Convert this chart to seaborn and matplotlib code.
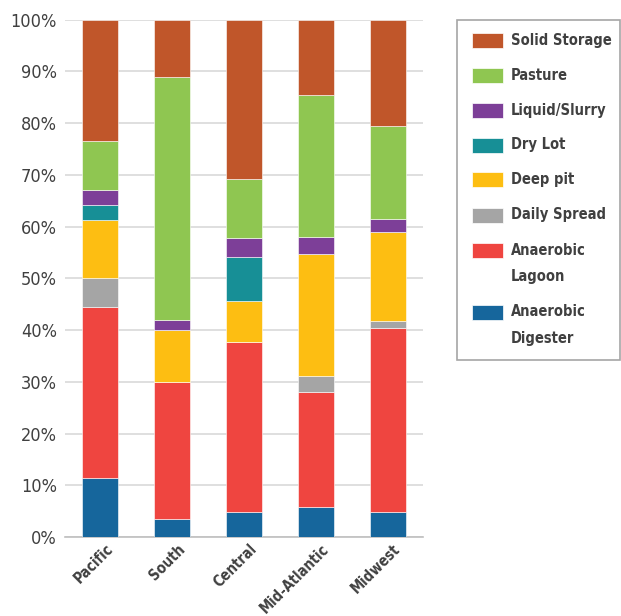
import matplotlib
matplotlib.use("Agg")
import matplotlib.pyplot as plt
import matplotlib.patches as mpatches
import matplotlib.transforms as mtrans
import seaborn as sns
import numpy as np

# 지역 및 분뇨 처리 방식별 비율 (%)
regions = ["Pacific", "South", "Central", "Mid-Atlantic", "Midwest"]
digester = [11.4, 3.5, 4.9, 5.9, 4.8]
lagoon = [33.1, 26.5, 32.9, 22.1, 35.7]
daily_spread = [5.5, 0.0, 0.0, 3.1, 1.2]
deep_pit = [11.2, 10.1, 7.8, 23.6, 17.2]
dry_lot = [2.9, 0.0, 8.6, 0.0, 0.0]
liquid = [3.0, 1.9, 3.7, 3.4, 2.5]
pasture = [9.4, 46.9, 11.3, 27.3, 18.0]
solid = [23.5, 11.1, 30.8, 14.6, 20.6]

labels = ["Anaerobic\nDigester", "Anaerobic\nLagoon", "Daily Spread", "Deep pit",
          "Dry Lot", "Liquid/Slurry", "Pasture", "Solid Storage"]
series = [digester, lagoon, daily_spread, deep_pit, dry_lot, liquid, pasture, solid]
colors = ["#16669C", "#EF4540", "#A5A5A5", "#FDBE12",
          "#178F96", "#7D3F98", "#8FC651", "#C0562A"]

sns.set_style("white")
plt.rcParams["font.family"] = ["DejaVu Sans"]
plt.rcParams["font.stretch"] = "condensed"
text_color = "#404040"

W, H = 621, 616
fig = plt.figure(figsize=(W / 100, H / 100), dpi=100)
ax = fig.add_axes([0.105, 0.128, 0.576, 0.840])

# 누적 막대
bottom = np.zeros(len(regions))
for vals, col in zip(series, colors):
    sns.barplot(x=regions, y=vals, bottom=bottom, color=col, saturation=1,
                width=0.5, ax=ax, edgecolor="white", linewidth=0.4, zorder=3)
    bottom += np.array(vals)

ax.set_ylim(0, 100)
ax.set_xlim(-0.49, 4.49)
ax.set_yticks(range(0, 101, 10))
ax.set_yticklabels([f"{v}%" for v in range(0, 101, 10)])
ax.yaxis.grid(True, color="#D9D9D9", linewidth=1.2, zorder=0)
ax.set_axisbelow(True)
for s in ["top", "right", "left"]:
    ax.spines[s].set_visible(False)
ax.spines["bottom"].set_color("#BFBFBF")
ax.spines["bottom"].set_linewidth(1.2)
ax.tick_params(axis="both", length=0, colors=text_color)
ax.tick_params(axis="y", pad=6)
ax.tick_params(axis="x", pad=3)
shift = mtrans.ScaledTranslation(0.05, 0, fig.dpi_scale_trans)
for lab in ax.get_xticklabels():
    lab.set_rotation(45)
    lab.set_ha("right")
    lab.set_rotation_mode("anchor")
    lab.set_fontweight("bold")
    lab.set_fontsize(10.5)
    lab.set_transform(lab.get_transform() + shift)
plt.setp(ax.get_yticklabels(), fontsize=13)

# 범례 (직접 그림, 위에서부터 Solid Storage)
def fx(px):
    return px / W

def fy(py):
    return 1 - py / H

fig.add_artist(mpatches.Rectangle((fx(457), fy(360)), fx(620) - fx(457), fy(20) - fy(360),
                                  transform=fig.transFigure, facecolor="white",
                                  edgecolor="#A6A6A6", linewidth=1.2))
rows = [40, 75, 110, 145, 180, 215, 250, 312]
for yc, col, lab in zip(rows, colors[::-1], labels[::-1]):
    fig.add_artist(mpatches.Rectangle((fx(472), fy(yc + 7.5)), fx(31), 15 / H,
                                      transform=fig.transFigure, facecolor=col,
                                      edgecolor="white", linewidth=0.5))
    lines = lab.split("\n")
    for i, line in enumerate(lines):
        fig.text(fx(511), fy(yc + 26 * i), line, va="center", ha="left",
                 fontsize=10.5, fontweight="bold", color=text_color)

fig.savefig("out.png", dpi=100)
